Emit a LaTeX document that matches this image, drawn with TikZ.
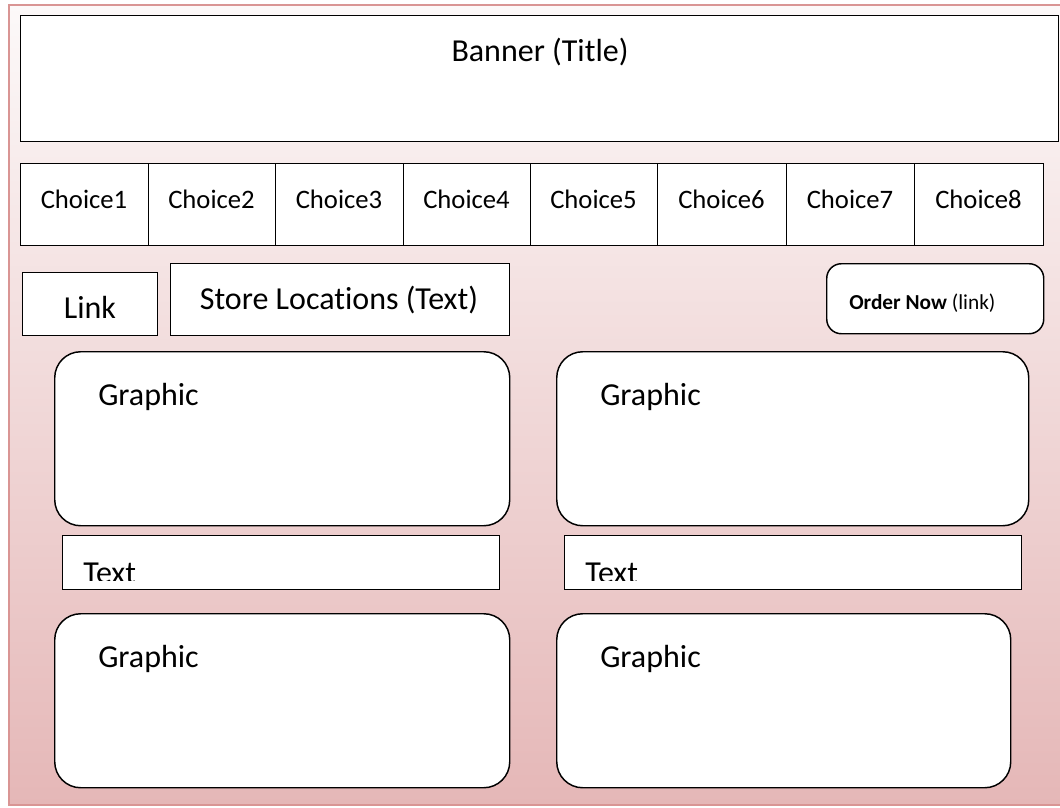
\documentclass[tikz,border=0pt]{standalone}
\usepackage{fontspec}
\setmainfont{Carlito}[Ligatures={NoCommon}]
\definecolor{frameline}{RGB}{217,149,148}
\definecolor{pagetop}{RGB}{252,249,249}
\definecolor{pagebottom}{RGB}{229,183,183}
\tikzset{
  box/.style={draw=black, line width=1.1pt, fill=white, inner sep=0pt, anchor=north west},
  card/.style={box, rounded corners=19.5pt},
  pill/.style={box, rounded corners=11pt},
  bigtext/.style={font=\fontsize{24}{29}\selectfont, inner sep=0pt},
  midtext/.style={font=\fontsize{20}{24}\selectfont, inner sep=0pt},
  smalltext/.style={font=\fontsize{16}{19}\selectfont, inner sep=0pt}
}
% rectangle node from its top-left and bottom-right corners, in pixels
\newcommand{\panel}[6]{\node[#6, minimum width={(#4-#2)*0.75pt}, minimum height={(#5-#3)*0.75pt}] (#1) at (#2,#3) {};}
\begin{document}
\begin{tikzpicture}[x=0.75pt, y=-0.75pt]
\useasboundingbox (0,0) rectangle (1060,807);
% page background with its frame
\shade[top color=pagetop, bottom color=pagebottom] (9,5) rectangle (1062,805);
\draw[frameline, line width=1.6pt] (1062,5) -- (9,5) -- (9,805) -- (1062,805);

% banner
\panel{banner}{20}{15}{1058}{141}{box}
\node[bigtext, anchor=base] (bannertxt) at (540,61) {Banner (Title)};

% menu of choices
\foreach \i/\a/\b in {1/20/148, 2/148/275, 3/275/403, 4/403/530, 5/530/657, 6/657/786, 7/786/914, 8/914/1043} {
  \panel{choice\i}{\a}{163}{\b}{245}{box}
  \node[midtext, anchor=base] (choicetxt\i) at ({(\a+\b)/2},208) {Choice\i};
}

% link row
\panel{link}{22}{272}{157}{335}{box}
\node[bigtext, anchor=base] (linktxt) at (90,318) {Link};
\panel{stores}{170}{263}{509}{335}{box}
\node[bigtext, anchor=base] (storestxt) at (339,309) {Store Locations (Text)};
\panel{order}{826}{263}{1043}{333}{pill}
\node[smalltext, anchor=base west] (ordertxt) at (849,309) {\textbf{Order Now} (link)};

% graphics with their captions
\panel{gfxA}{54}{351}{509}{525}{card}
\panel{gfxB}{556}{351}{1028}{525}{card}
\panel{gfxC}{54}{613}{509}{787}{card}
\panel{gfxD}{556}{613}{1010}{787}{card}
\node[bigtext, anchor=base west] (gfxAtxt) at (98,405) {Graphic};
\node[bigtext, anchor=base west] (gfxBtxt) at (600,405) {Graphic};
\node[bigtext, anchor=base west] (gfxCtxt) at (98,667) {Graphic};
\node[bigtext, anchor=base west] (gfxDtxt) at (600,667) {Graphic};

\panel{capA}{62}{535}{499}{589}{box}
\panel{capB}{564}{535}{1021}{589}{box}
\begin{scope}
  \clip (60,530) rectangle (1025,580);
  \node[bigtext, anchor=base west] (capAtxt) at (83,583) {Text};
  \node[bigtext, anchor=base west] (capBtxt) at (585,583) {Text};
\end{scope}
\end{tikzpicture}
\end{document}
